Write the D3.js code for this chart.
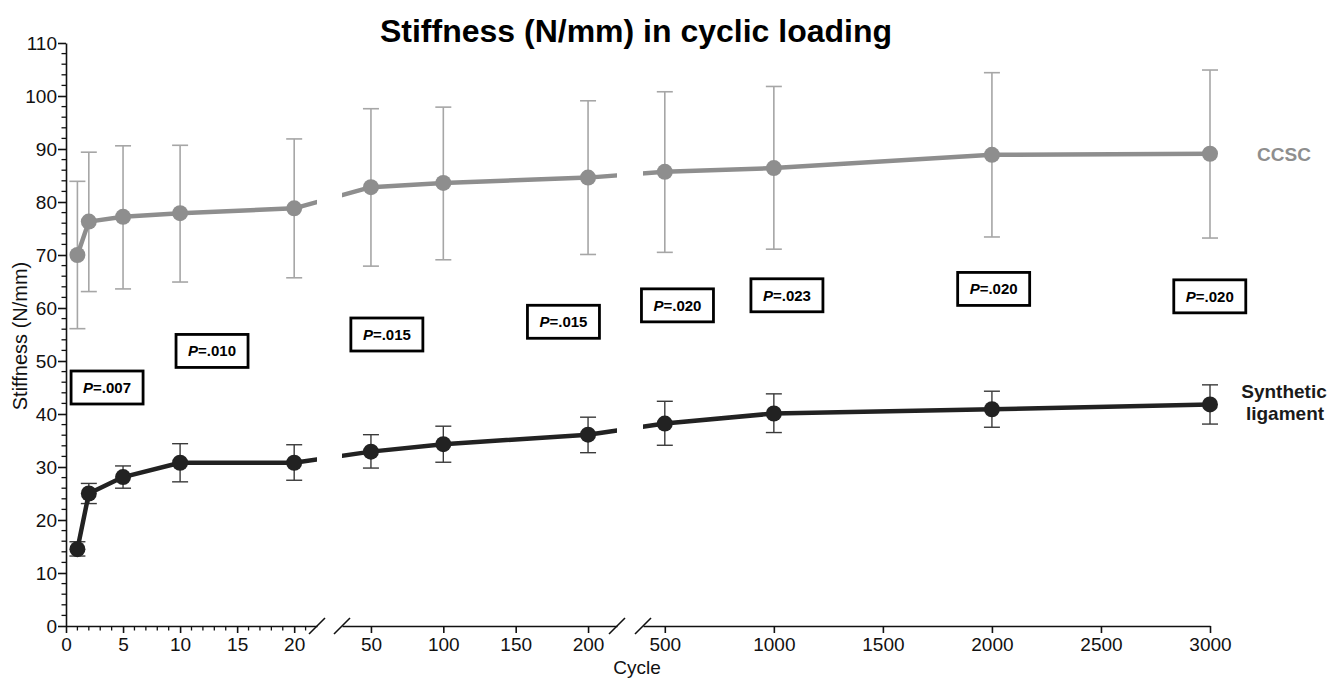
<!DOCTYPE html>
<html>
<head>
<meta charset="utf-8">
<script src="https://cdn.jsdelivr.net/npm/d3@7/dist/d3.min.js"></script>
<style>
  html, body { margin: 0; padding: 0; background: #fff; }
  svg { display: block; font-family: "Liberation Sans", Arial, Helvetica, sans-serif; }
</style>
</head>
<body>
<svg id="chart" width="1330" height="680"></svg>
<script>
// ---------------- DATA ----------------
const cycles = [1, 2, 5, 10, 20, 50, 100, 200, 500, 1000, 2000, 3000];

const ccscMean  = [70.0, 76.3, 77.2, 77.9, 78.8, 82.8, 83.6, 84.6, 85.7, 86.4, 88.9, 89.1];
const ccscUpper = [83.9, 89.4, 90.6, 90.7, 91.9, 97.6, 97.9, 99.1, 100.8, 101.8, 104.4, 104.9];
const ccscLower = [56.1, 63.1, 63.6, 64.9, 65.7, 67.9, 69.1, 70.1, 70.5, 71.1, 73.4, 73.2];

const synMean  = [14.5, 25.0, 28.1, 30.8, 30.8, 32.9, 34.3, 36.1, 38.2, 40.1, 40.9, 41.8];
const synUpper = [15.9, 26.9, 30.2, 34.4, 34.2, 36.1, 37.7, 39.4, 42.4, 43.8, 44.3, 45.5];
const synLower = [13.2, 23.1, 26.0, 27.2, 27.5, 29.8, 30.9, 32.7, 34.1, 36.5, 37.5, 38.1];

const pLabels = [".007", ".010", ".015", ".015", ".020", ".023", ".020", ".020"];
const pCycle  = [3.6, 12.8, 61, 183, 558, 1060, 2008, 2999];
const pLevel  = [45.0, 51.9, 55.0, 57.4, 60.5, 62.4, 63.6, 62.2];

const yTicks = [0, 10, 20, 30, 40, 50, 60, 70, 80, 90, 100, 110];
const segTicks = [
  [0, 5, 10, 15, 20],
  [50, 100, 150, 200],
  [500, 1000, 1500, 2000, 2500, 3000]
];
const segDomains = [[0, 22], [30, 220], [400, 3000]];

// ---------------- LAYOUT ----------------
const svg = d3.select("#chart");
const segRanges = [[66, 317], [342, 617], [643, 1210]];
const y0 = 626, y1 = 43;

const segScales = segDomains.map((d, i) => d3.scaleLinear().domain(d).range(segRanges[i]));
const x = d3.scaleLinear()
  .domain(segDomains.flat())
  .range(segRanges.flat());
const y = d3.scaleLinear().domain([0, 110]).range([y0, y1]);

const axisColor = "#111";
const tickFont = 19;

// clip paths for segment gaps
const defs = svg.append("defs");
const clip = defs.append("clipPath").attr("id", "segclip");
segRanges.forEach((r, i) => {
  clip.append("rect")
    .attr("x", r[0]).attr("y", 0)
    .attr("width", (r[1] - r[0]) + (i === 2 ? 20 : 0))
    .attr("height", 680);
});

// ---------------- AXES ----------------
const yAxis = d3.axisLeft(y).tickValues(yTicks).tickSize(8).tickSizeOuter(0).tickPadding(1);
const gy = svg.append("g").attr("transform", `translate(${segRanges[0][0]},0)`).call(yAxis);
gy.attr("font-size", tickFont).attr("font-family", null);
gy.select(".domain").attr("stroke", axisColor).attr("stroke-width", 1.6);
gy.selectAll(".tick line").attr("stroke", axisColor).attr("stroke-width", 1.6);
gy.selectAll(".tick text").attr("fill", "#111");
const yMinor = d3.range(0, 111, 2).filter(v => v % 10 !== 0);
svg.append("g").selectAll("line").data(yMinor).join("line")
  .attr("x1", segRanges[0][0]).attr("x2", segRanges[0][0] - 4.5)
  .attr("y1", d => y(d)).attr("y2", d => y(d))
  .attr("stroke", axisColor).attr("stroke-width", 1.3);

segScales.forEach((s, i) => {
  const ax = d3.axisBottom(s).tickValues(segTicks[i]).tickSize(7).tickSizeOuter(0).tickPadding(5).tickFormat(d3.format("d"));
  const g = svg.append("g").attr("transform", `translate(0,${y0})`).call(ax);
  g.attr("font-size", tickFont).attr("font-family", null);
  g.select(".domain").attr("stroke", axisColor).attr("stroke-width", 1.6);
  g.selectAll(".tick line").attr("stroke", axisColor).attr("stroke-width", 1.6);
  g.selectAll(".tick text").attr("fill", "#111");
});
const xMinor = d3.range(1, 22).filter(v => v % 5 !== 0);
svg.append("g").selectAll("line").data(xMinor).join("line")
  .attr("x1", d => segScales[0](d)).attr("x2", d => segScales[0](d))
  .attr("y1", y0).attr("y2", y0 + 4.5)
  .attr("stroke", axisColor).attr("stroke-width", 1.3);

const breakX = [segRanges[0][1], segRanges[1][0], segRanges[1][1], segRanges[2][0]];
svg.append("g").selectAll("line").data(breakX).join("line")
  .attr("x1", d => d - 8).attr("y1", y0 + 8)
  .attr("x2", d => d + 8).attr("y2", y0 - 8)
  .attr("stroke", axisColor).attr("stroke-width", 1.6);

svg.append("text")
  .attr("transform", `translate(27,336) rotate(-90)`)
  .attr("text-anchor", "middle").attr("font-size", 20).attr("fill", "#111")
  .text("Stiffness (N/mm)");
svg.append("text")
  .attr("x", 637).attr("y", 674)
  .attr("text-anchor", "middle").attr("font-size", 19).attr("fill", "#111")
  .text("Cycle");

svg.append("text")
  .attr("x", 636).attr("y", 42)
  .attr("text-anchor", "middle").attr("font-size", 32).attr("font-weight", "bold").attr("fill", "#000")
  .text("Stiffness (N/mm) in cyclic loading");

// ---------------- SERIES ----------------
function drawSeries(mean, upper, lower, lineColor, barColor, barWidth) {
  const g = svg.append("g");
  const eb = g.append("g");
  cycles.forEach((c, i) => {
    const cx = x(c);
    eb.append("line").attr("x1", cx).attr("x2", cx).attr("y1", y(lower[i])).attr("y2", y(upper[i]))
      .attr("stroke", barColor).attr("stroke-width", barWidth);
    [upper[i], lower[i]].forEach(v => {
      eb.append("line").attr("x1", cx - 8).attr("x2", cx + 8).attr("y1", y(v)).attr("y2", y(v))
        .attr("stroke", barColor).attr("stroke-width", barWidth);
    });
  });
  const line = d3.line().x((d, i) => x(cycles[i])).y(d => y(d));
  g.append("path").datum(mean)
    .attr("clip-path", "url(#segclip)")
    .attr("d", line).attr("fill", "none")
    .attr("stroke", lineColor).attr("stroke-width", 4.5).attr("stroke-linejoin", "round");
  g.append("g").selectAll("circle").data(mean).join("circle")
    .attr("cx", (d, i) => x(cycles[i])).attr("cy", d => y(d)).attr("r", 8)
    .attr("fill", lineColor);
}

drawSeries(ccscMean, ccscUpper, ccscLower, "#8e8e8e", "#a6a6a6", 1.6);
drawSeries(synMean, synUpper, synLower, "#222222", "#3a3a3a", 1.4);

svg.append("text").attr("x", 1284).attr("y", 161).attr("text-anchor", "middle")
  .attr("font-size", 19).attr("font-weight", "bold").attr("fill", "#8e8e8e").text("CCSC");
const sl = svg.append("text").attr("text-anchor", "middle")
  .attr("font-size", 19).attr("font-weight", "bold").attr("fill", "#1a1a1a");
sl.append("tspan").attr("x", 1284).attr("y", 398).text("Synthetic");
sl.append("tspan").attr("x", 1285).attr("y", 420).text("ligament");

// ---------------- P-VALUE BOXES ----------------
const boxW = 72, boxH = 33;
const pg = svg.append("g");
pLabels.forEach((lab, i) => {
  const cx = x(pCycle[i]), cy = y(pLevel[i]);
  pg.append("rect")
    .attr("x", cx - boxW / 2).attr("y", cy - boxH / 2)
    .attr("width", boxW).attr("height", boxH)
    .attr("fill", "#fff").attr("stroke", "#000").attr("stroke-width", 2.8);
  const t = pg.append("text").attr("x", cx).attr("y", cy + 5.5)
    .attr("text-anchor", "middle").attr("font-size", 15).attr("font-weight", "bold").attr("fill", "#000");
  t.append("tspan").attr("font-style", "italic").text("P");
  t.append("tspan").text("=" + lab);
});
</script>
</body>
</html>
